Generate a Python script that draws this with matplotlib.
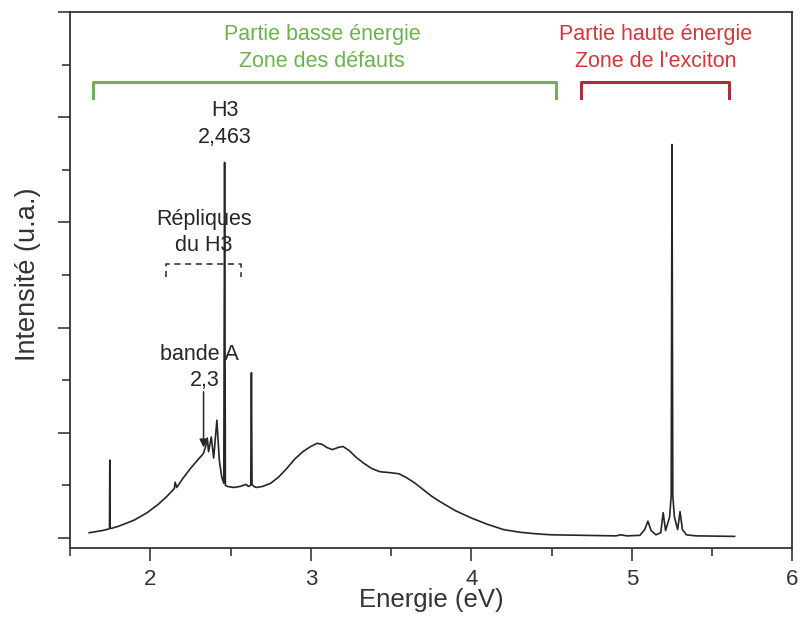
import matplotlib
matplotlib.use("Agg")
import matplotlib.pyplot as plt
from matplotlib.ticker import MultipleLocator, NullFormatter

plt.rcParams['font.family'] = ['Liberation Sans', 'DejaVu Sans']

# Spectrum: energy (eV) and intensity (a.u.)
energy = [1.62, 1.70, 1.74, 1.746, 1.748, 1.750, 1.755, 1.80, 1.90, 1.98, 2.05, 2.10, 2.15,
          2.155, 2.165, 2.20, 2.25, 2.30, 2.33, 2.345, 2.355, 2.363, 2.38, 2.395, 2.415,
          2.43, 2.445, 2.458, 2.463, 2.468, 2.48, 2.52, 2.56, 2.597, 2.61, 2.626, 2.630,
          2.634, 2.645, 2.66, 2.70, 2.75, 2.80, 2.85, 2.90, 2.95, 3.00, 3.04, 3.07, 3.10,
          3.135, 3.17, 3.20, 3.24, 3.28, 3.33, 3.38, 3.43, 3.50, 3.55, 3.60, 3.65, 3.70,
          3.75, 3.80, 3.90, 4.00, 4.10, 4.20, 4.30, 4.40, 4.50, 4.70, 4.90, 4.93, 4.97,
          5.05, 5.08, 5.10, 5.12, 5.15, 5.18, 5.195, 5.21, 5.235, 5.245, 5.25, 5.255,
          5.265, 5.285, 5.30, 5.315, 5.34, 5.40, 5.50, 5.64]
intensity = [0.05, 0.07, 0.085, 0.09, 0.74, 0.10, 0.09, 0.11, 0.17, 0.24, 0.32, 0.39, 0.47,
             0.53, 0.48, 0.56, 0.66, 0.75, 0.80, 0.87, 0.95, 0.82, 0.96, 0.76, 1.12,
             0.74, 0.58, 0.52, 3.57, 0.50, 0.49, 0.48, 0.49, 0.51, 0.49, 0.50, 1.57,
             0.51, 0.49, 0.48, 0.49, 0.52, 0.58, 0.66, 0.75, 0.82, 0.87, 0.90, 0.89, 0.86,
             0.84, 0.86, 0.87, 0.83, 0.77, 0.71, 0.66, 0.63, 0.62, 0.61, 0.57, 0.52, 0.46,
             0.40, 0.35, 0.26, 0.19, 0.13, 0.08, 0.055, 0.04, 0.03, 0.025, 0.02, 0.03, 0.02,
             0.025, 0.08, 0.16, 0.07, 0.03, 0.05, 0.24, 0.07, 0.20, 0.40, 3.74, 0.40,
             0.20, 0.08, 0.25, 0.08, 0.03, 0.02, 0.018, 0.015]

GREEN = '#6cb24e'
GREEN_BR = '#74ad5e'
RED = '#d2373c'
RED_BR = '#a3303c'
INK = '#262626'

fig = plt.figure(figsize=(8.0, 6.21), dpi=100)
ax = fig.add_axes([0.0875, 0.1176, 0.903, 0.8631])

ax.plot(energy, intensity, color=INK, lw=1.2)

ax.set_xlim(1.5, 6.0)
ax.set_ylim(-0.095, 5.0)
ax.xaxis.set_major_locator(MultipleLocator(1))
ax.xaxis.set_minor_locator(MultipleLocator(0.5))
ax.yaxis.set_major_locator(MultipleLocator(1))
ax.yaxis.set_minor_locator(MultipleLocator(0.5))
ax.yaxis.set_major_formatter(NullFormatter())
ax.tick_params(which='major', direction='out', length=9, width=1.2, color='#3a3a3a',
               labelsize=16, pad=6, labelcolor='#333333')
ax.tick_params(which='minor', direction='out', length=6, width=1.2, color='#3a3a3a')
ax.set_xticks([2, 3, 4, 5, 6])
ax.set_xticklabels(['2', '3', '4', '5', '6'])
for s in ax.spines.values():
    s.set_color('#333333')
    s.set_linewidth(1.3)

ax.set_xlabel('Energie (eV)', fontsize=18.5, color='#333333')
ax.xaxis.set_label_coords(0.5, -0.075)
ax.set_ylabel('Intensité (u.a.)', fontsize=19.5, color='#333333')
ax.yaxis.set_label_coords(-0.04, 0.51)

# Zone brackets
ax.plot([1.643, 1.643, 4.525, 4.525], [4.18, 4.33, 4.33, 4.18], color=GREEN_BR, lw=2.2)
ax.plot([4.686, 4.686, 5.606, 5.606], [4.18, 4.33, 4.33, 4.18], color=RED_BR, lw=2.2)
ax.text(3.07, 4.79, 'Partie basse énergie', color=GREEN, fontsize=15.5, ha='center', va='center')
ax.text(3.07, 4.53, 'Zone des défauts', color=GREEN, fontsize=15.5, ha='center', va='center')
ax.text(5.15, 4.79, 'Partie haute énergie', color=RED, fontsize=15.5, ha='center', va='center')
ax.text(5.15, 4.53, "Zone de l'exciton", color=RED, fontsize=15.5, ha='center', va='center')

# Peak labels
ax.text(2.463, 4.06, 'H3', fontsize=15.5, ha='center', va='center', color=INK)
ax.text(2.463, 3.81, '2,463', fontsize=15.5, ha='center', va='center', color=INK)
ax.text(2.332, 3.03, 'Répliques', fontsize=15.5, ha='center', va='center', color=INK)
ax.text(2.332, 2.78, 'du H3', fontsize=15.5, ha='center', va='center', color=INK)
ax.plot([2.10, 2.10, 2.568, 2.568], [2.48, 2.60, 2.60, 2.48], color=INK, lw=1.1,
        ls=(0, (4, 3)))
ax.text(2.307, 1.74, 'bande A', fontsize=15.5, ha='center', va='center', color=INK)
ax.text(2.34, 1.50, '2,3', fontsize=15.5, ha='center', va='center', color=INK)
ax.annotate('', xy=(2.332, 0.86), xytext=(2.332, 1.39),
            arrowprops=dict(arrowstyle='-|>', color=INK, lw=1.1,
                            mutation_scale=12, shrinkA=0, shrinkB=0))

fig.savefig('out.png', dpi=100)
